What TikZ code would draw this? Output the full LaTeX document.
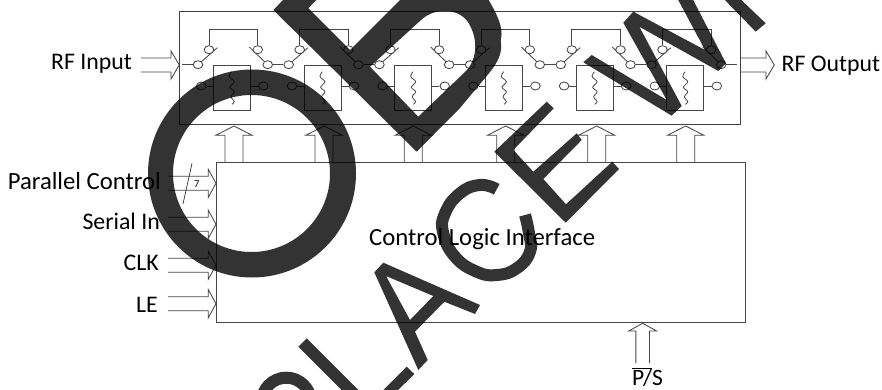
\documentclass[tikz,border=0pt]{standalone}
\usepackage{fontspec}
\setmainfont{Carlito}
\usetikzlibrary{shapes.geometric}
\tikzset{
  wire/.style={draw=black!72,line width=0.85pt},
  contact/.style={ellipse,draw=black!72,line width=0.85pt,fill=white,minimum width=9.6pt,minimum height=8pt,inner sep=0pt},
  filterbox/.style={rectangle,draw=black!72,line width=0.85pt,minimum width=37pt,minimum height=45.4pt,inner sep=0pt},
  txt/.style={font=\fontsize{24.7}{28}\selectfont,inner sep=0pt,text=black},
  txtsmall/.style={font=\fontsize{23.8}{28}\selectfont,inner sep=0pt,text=black},
  stamp/.style={fill=black,fill opacity=.8,draw=none,even odd rule},
  stampline/.style={draw=black,draw opacity=.8,fill=none}
}
\newcommand{\hblock}[5]{% name, x start, x head base, x tip, y
  \coordinate (#1) at (#4,#5);
  \draw[wire] (#2,#5-7) -- (#3,#5-7) -- (#3,#5-14) -- (#1) -- (#3,#5+14) -- (#3,#5+7) -- (#2,#5+7);
}
\newcommand{\vblock}[5]{% name, x apex, y apex, half-shaft, y bottom
  \coordinate (#1) at (#2,#3);
  \draw[wire] (#2-#4,#5) -- (#2-#4,#3+9.3) -- (#2-#4-9.2,#3+9.3) -- (#1) -- (#2+#4+9.2,#3+9.3) -- (#2+#4,#3+9.3) -- (#2+#4,#5);
}
\begin{document}
\begin{tikzpicture}[x=1pt,y=-1pt]
\useasboundingbox (0,0) rectangle (882,390);
\fill[white] (0,0) rectangle (882,390);

% main boxes
\node[rectangle,draw=black!75,line width=0.85pt,minimum width=561.4pt,minimum height=113pt,inner sep=0pt] (rfbox) at (460,67.5) {};
\node[rectangle,draw=black!72,line width=0.85pt,minimum width=529pt,minimum height=159.5pt,inner sep=0pt] (ctrl) at (480.5,242.2) {};
\node[txt,anchor=base west] (ctrltext) at (369,245) {Control Logic Interface};

% filter cells and switches
\foreach \i in {0,...,5} {
  \pgfmathsetmacro{\bx}{213.3+90.7*\i}
  \pgfmathsetmacro{\fx}{\bx+18.5}
  \node[filterbox] (f\i) at (\fx,88) {};
  \pgfmathsetmacro{\cleft}{\bx-12}
  \pgfmathsetmacro{\cright}{\bx+50}
  \node[contact] (cl\i) at (\cleft,86) {};
  \node[contact] (cr\i) at (\cright,86) {};
  \draw[wire] (cl\i) -- (cl\i-|f\i.west);
  \draw[wire] (cr\i) -- (cr\i-|f\i.east);
  \pgfmathsetmacro{\sqx}{\bx+18.3}
  \draw[black!72,line width=0.8pt] plot[smooth] coordinates {(\sqx,71.7) (\sqx-2.3,76.7) (\sqx+2.7,81.7) (\sqx-1.7,87.3) (\sqx+2.7,91.7) (\sqx-0.7,96.7) (\sqx+2.7,101.7) (\sqx+0.3,104.3)};
  \pgfmathsetmacro{\xa}{198+90.7*\i}
  \pgfmathsetmacro{\xb}{209+90.7*\i}
  \pgfmathsetmacro{\xc}{217.3+90.7*\i}
  \pgfmathsetmacro{\xd}{249.3+90.7*\i}
  \pgfmathsetmacro{\xe}{257.7+90.7*\i}
  \pgfmathsetmacro{\xf}{267.7+90.7*\i}
  \coordinate (al\i) at (\xc,47.7);
  \coordinate (ar\i) at (\xd,47);
  \coordinate (tw\i) at (\xb,29);
  \draw[wire] (\xa,64.7) -- (al\i);
  \draw[wire] (ar\i) -- (\xf,64.7);
  \node[contact] (ll\i) at (\xa,64.7) {};
  \node[contact] (ul\i) at (\xb,49.7) {};
  \node[contact] (ur\i) at (\xe,49.7) {};
  \node[contact] (lr\i) at (\xf,64.7) {};
  \draw[wire] (ul\i.north) -- (tw\i) -| (ur\i.north);
}
\foreach \i/\j in {0/1,1/2,2/3,3/4,4/5} \draw[wire] (lr\i) -- (ll\j);
\coordinate (leadin) at (182,64.7);
\coordinate (leadout) at (737.3,64.7);
\draw[wire] (leadin) -- (ll0);
\draw[wire] (lr5) -- (leadout);

% up arrows from control block
\vblock{u0}{234}{126}{9}{162.5}
\vblock{u1}{324}{126}{9}{162.5}
\vblock{u2}{413.3}{126}{9}{162.5}
\vblock{u3}{505.7}{126}{9}{162.5}
\vblock{u4}{596.7}{126}{9}{162.5}
\vblock{u5}{685.7}{126}{9}{162.5}

% P/S arrow
\coordinate (ps) at (642.7,323.3);
\draw[wire] (635.9,363) -- (635.9,331) -- (628.7,331) -- (ps) -- (656.7,331) -- (649.5,331) -- (649.5,363);
\node[txtsmall,anchor=base west,font=\fontsize{23.5}{28}\selectfont] (pstext) at (632,385.3) {\rlap{\raisebox{0.69em}{\rule{19.5pt}{0.7pt}}}P/S};

% horizontal block arrows
\hblock{rfin}{141}{171}{179.3}{65}
\hblock{rfout}{740.7}{766}{774.3}{65}
\hblock{pc}{168}{208.3}{216}{183.3}
\hblock{si}{168}{208.3}{216}{224.3}
\hblock{clk}{168}{208.3}{216}{265.2}
\hblock{le}{168}{208.3}{216}{303.7}

\coordinate (slasha) at (192,163.3);
\coordinate (slashb) at (183,204);
\draw[black!80,line width=0.7pt] (slasha) -- (slashb);
\node[font=\fontsize{10.5}{12}\selectfont,inner sep=0pt] (seven) at (196.7,184) {7};

% labels
\node[txtsmall,anchor=base east] (t1) at (132,70) {RF Input};
\node[txtsmall,anchor=base west] (t2) at (781.5,71.7) {RF Output};
\node[txt,anchor=base east] (t3) at (161,189.3) {Parallel Control};
\node[txtsmall,anchor=base east] (t4) at (160,229.3) {Serial In};
\node[txtsmall,anchor=base east] (t5) at (159,270.7) {CLK};
\node[txtsmall,anchor=base east] (t6) at (158,312.3) {LE};

% overprinted diagonal stamp
\begin{scope}
\clip (0,0) rectangle (882,390);
% O
\fill[stamp] (252,173.5) circle (104) (251.5,173.5) circle (78.5);
% B
\fill[stamp] (273.3,10) -- (300,-17) -- (478,-17) .. controls (492,5) and (505,25) .. (500.7,40)
  .. controls (503,52) and (498,62) .. (490,72) -- (460,108) -- (416.7,151.7) -- cycle
  (308.3,8.3) -- (350,50) -- (410,-10) -- (326,-10) -- cycle
  (370,66.7) -- (418.3,116.7) -- (466,71) .. controls (478,58) and (478,38) .. (468,22) .. controls (458,8) and (435,7) .. (421,20) -- cycle;
% P
\draw[stampline,line width=12pt] (286.3,402.3) circle (24.6);
% L
\fill[stamp] (306.7,338.3) -- (370.9,402.5) -- (406.7,366.7) -- (414.3,374) -- (369.8,418.2) -- (298.3,346.7) -- cycle;
% A
\fill[stamp] (383.3,262.7) -- (480,305) -- (475,314) -- (444.3,301.7) -- (415,331.7) -- (427.7,360) -- (418.3,370) -- (374.3,272.3) -- cycle
  (386,276) -- (433.3,296) -- (410,320) -- cycle;
% C
\draw[stampline,line width=12pt] plot[smooth,tension=.8] coordinates {(496.7,189.3) (480,185) (460,193.3) (445,213.3) (443.3,233.3) (455,256.7) (476.7,271.7) (496.7,275) (516.7,268.3) (530,251.7) (529,233.3) (525,215)};
% E
\fill[stamp] (494.3,151.7) -- (546.7,101.7) -- (553.7,108.3) -- (513.3,150) -- (533.3,171.7) -- (576.7,133.3) -- (581.7,140) -- (543.3,179) -- (566,204.3) -- (612.3,161.7) -- (619,169) -- (565.7,222.7) -- cycle;
% M
\fill[stamp] (591.7,55) -- (666.7,100) -- (623.3,22.7) -- (633.3,11.7) -- (705,50) -- (675,-6) -- (690,-6) -- (726,63.3) -- (718.3,71) -- (639.3,26.7) -- (681.7,106) -- (671.7,115.7) -- (583.3,62.3) -- cycle;
% E fragment
\fill[stamp] (719,-6) -- (735,-6) -- (765.7,23.3) -- (755.7,31.7) -- cycle;
\end{scope}
\end{tikzpicture}
\end{document}
